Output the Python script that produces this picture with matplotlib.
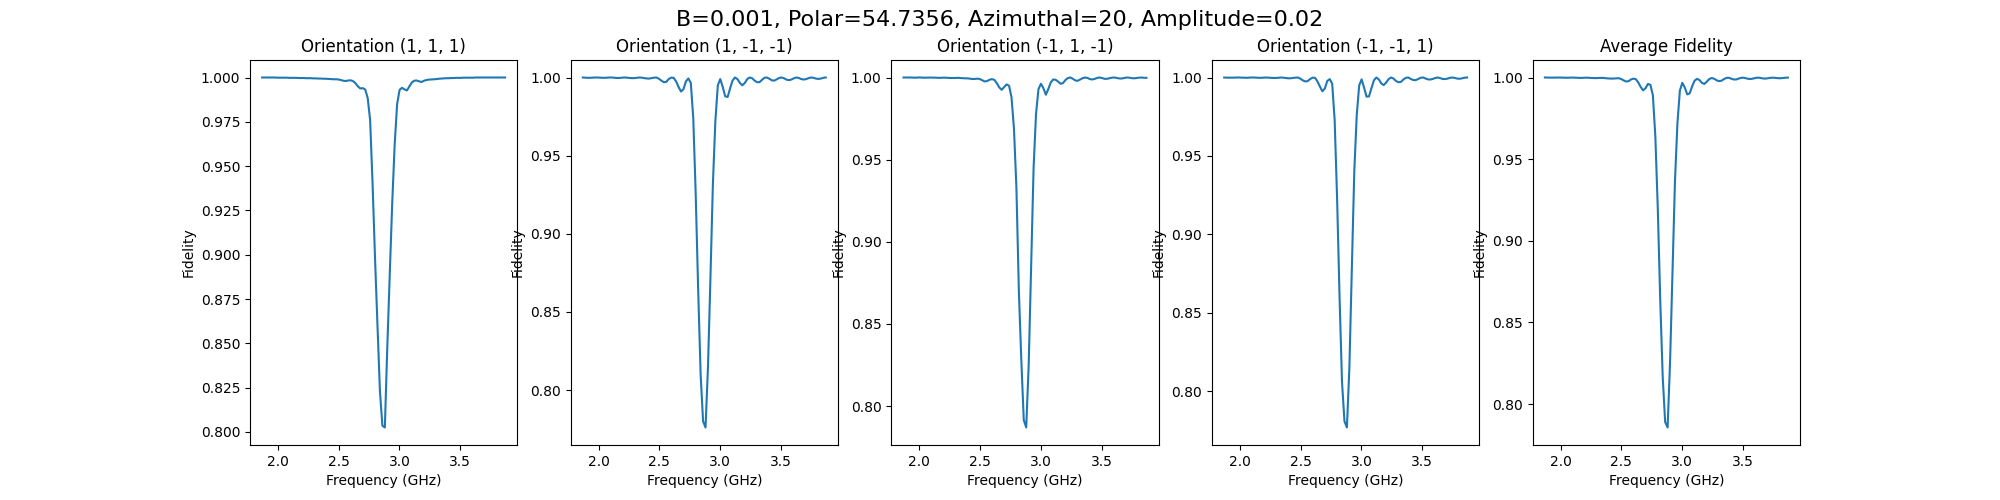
import numpy as np
import matplotlib
matplotlib.use("Agg")
import matplotlib.pyplot as plt

# drive frequency sweep, 100 points around 2.87 GHz
freq = np.linspace(1.87, 3.87, 100)

titles = ["Orientation (1, 1, 1)", "Orientation (1, -1, -1)",
          "Orientation (-1, 1, -1)", "Orientation (-1, -1, 1)"]

fid_111 = [
    1.0000, 1.0000, 1.0000, 1.0000, 1.0000, 1.0000, 0.9999, 0.9999, 0.9999, 0.9999,
    0.9999, 0.9998, 0.9998, 0.9998, 0.9998, 0.9997, 0.9997, 0.9997, 0.9996, 0.9996,
    0.9996, 0.9995, 0.9995, 0.9994, 0.9994, 0.9993, 0.9993, 0.9992, 0.9991, 0.9990,
    0.9990, 0.9989, 0.9986, 0.9982, 0.9980, 0.9983, 0.9984, 0.9980, 0.9968, 0.9950,
    0.9938, 0.9940, 0.9932, 0.9885, 0.9760, 0.9400, 0.8980, 0.8600, 0.8230, 0.8035,
    0.8025, 0.8480, 0.8890, 0.9290, 0.9620, 0.9850, 0.9930, 0.9942, 0.9933, 0.9927,
    0.9950, 0.9972, 0.9982, 0.9983, 0.9978, 0.9975, 0.9982, 0.9986, 0.9988, 0.9989,
    0.9990, 0.9991, 0.9993, 0.9994, 0.9995, 0.9996, 0.9996, 0.9997, 0.9997, 0.9998,
    0.9998, 0.9998, 0.9999, 0.9999, 0.9999, 0.9999, 0.9999, 1.0000, 1.0000, 1.0000,
    1.0000, 1.0000, 1.0000, 1.0000, 1.0000, 1.0000, 1.0000, 1.0000, 1.0000, 1.0000,
]

fid_1mm = [
    1.0000, 0.9999, 0.9998, 0.9998, 0.9999, 1.0000, 1.0000, 0.9999, 0.9998, 0.9998,
    0.9999, 1.0000, 1.0000, 0.9998, 0.9997, 0.9997, 0.9999, 1.0000, 0.9999, 0.9997,
    0.9996, 0.9996, 0.9998, 1.0000, 0.9999, 0.9996, 0.9994, 0.9993, 0.9996, 0.9999,
    1.0000, 0.9992, 0.9980, 0.9970, 0.9972, 0.9990, 0.9999, 0.9998, 0.9975, 0.9940,
    0.9910, 0.9925, 0.9975, 0.9994, 0.9965, 0.9740, 0.9250, 0.8640, 0.8100, 0.7800,
    0.7760, 0.8150, 0.8720, 0.9320, 0.9720, 0.9950, 0.9990, 0.9940, 0.9880, 0.9875,
    0.9930, 0.9980, 1.0000, 0.9990, 0.9965, 0.9950, 0.9965, 0.9990, 1.0000, 0.9995,
    0.9980, 0.9970, 0.9970, 0.9985, 0.9998, 1.0000, 0.9992, 0.9982, 0.9980, 0.9988,
    0.9997, 1.0000, 0.9995, 0.9986, 0.9983, 0.9987, 0.9995, 1.0000, 0.9997, 0.9990,
    0.9987, 0.9990, 0.9996, 1.0000, 0.9998, 0.9993, 0.9991, 0.9993, 0.9998, 1.0000,
]

fid_m1m = [
    1.0000, 1.0000, 1.0000, 1.0000, 0.9999, 0.9999, 1.0000, 1.0000, 0.9999, 0.9999,
    0.9999, 1.0000, 0.9999, 0.9999, 0.9998, 0.9998, 0.9999, 0.9999, 0.9998, 0.9997,
    0.9997, 0.9997, 0.9998, 0.9997, 0.9996, 0.9995, 0.9995, 0.9993, 0.9991, 0.9991,
    0.9993, 0.9991, 0.9984, 0.9976, 0.9978, 0.9986, 0.9990, 0.9986, 0.9966, 0.9940,
    0.9925, 0.9942, 0.9958, 0.9950, 0.9880, 0.9690, 0.9330, 0.8700, 0.8280, 0.7915,
    0.7870, 0.8250, 0.8850, 0.9450, 0.9780, 0.9930, 0.9962, 0.9935, 0.9895, 0.9930,
    0.9970, 0.9988, 0.9986, 0.9975, 0.9962, 0.9966, 0.9985, 0.9997, 1.0000, 0.9992,
    0.9982, 0.9980, 0.9988, 0.9996, 1.0000, 0.9997, 0.9990, 0.9988, 0.9992, 0.9998,
    1.0000, 0.9996, 0.9992, 0.9992, 0.9996, 0.9999, 1.0000, 0.9997, 0.9994, 0.9994,
    0.9997, 1.0000, 0.9999, 0.9996, 0.9995, 0.9997, 0.9999, 1.0000, 0.9998, 0.9998,
]

fid_mm1 = [
    1.0000, 0.9999, 0.9999, 0.9999, 0.9999, 1.0000, 1.0000, 0.9999, 0.9999, 0.9998,
    0.9999, 1.0000, 1.0000, 0.9999, 0.9998, 0.9998, 0.9999, 1.0000, 0.9999, 0.9998,
    0.9997, 0.9997, 0.9998, 1.0000, 0.9999, 0.9997, 0.9995, 0.9995, 0.9997, 0.9999,
    1.0000, 0.9993, 0.9982, 0.9975, 0.9977, 0.9990, 0.9999, 0.9998, 0.9975, 0.9942,
    0.9912, 0.9930, 0.9978, 0.9990, 0.9960, 0.9730, 0.9230, 0.8600, 0.8060, 0.7810,
    0.7770, 0.8150, 0.8780, 0.9400, 0.9760, 0.9950, 0.9988, 0.9935, 0.9878, 0.9880,
    0.9932, 0.9982, 1.0000, 0.9988, 0.9962, 0.9952, 0.9968, 0.9990, 1.0000, 0.9993,
    0.9978, 0.9970, 0.9972, 0.9987, 0.9998, 1.0000, 0.9991, 0.9984, 0.9983, 0.9990,
    0.9998, 1.0000, 0.9994, 0.9988, 0.9987, 0.9991, 0.9997, 1.0000, 0.9996, 0.9991,
    0.9990, 0.9993, 0.9998, 1.0000, 0.9997, 0.9993, 0.9992, 0.9995, 0.9999, 1.0000,
]

series = [fid_111, fid_1mm, fid_m1m, fid_mm1]
fid_avg = np.mean(np.array(series), axis=0)

fig, axes = plt.subplots(1, 5, figsize=(20, 5), dpi=100)
fig.suptitle("B=0.001, Polar=54.7356, Azimuthal=20, Amplitude=0.02", fontsize=16)

for ax, name, fid in zip(axes[:4], titles, series):
    ax.plot(freq, fid)
    ax.set_title(name)
    ax.set_xlabel("Frequency (GHz)")
    ax.set_ylabel("Fidelity")

axes[4].plot(freq, fid_avg)
axes[4].set_title("Average Fidelity")
axes[4].set_xlabel("Frequency (GHz)")
axes[4].set_ylabel("Fidelity")

plt.savefig("out.png")
